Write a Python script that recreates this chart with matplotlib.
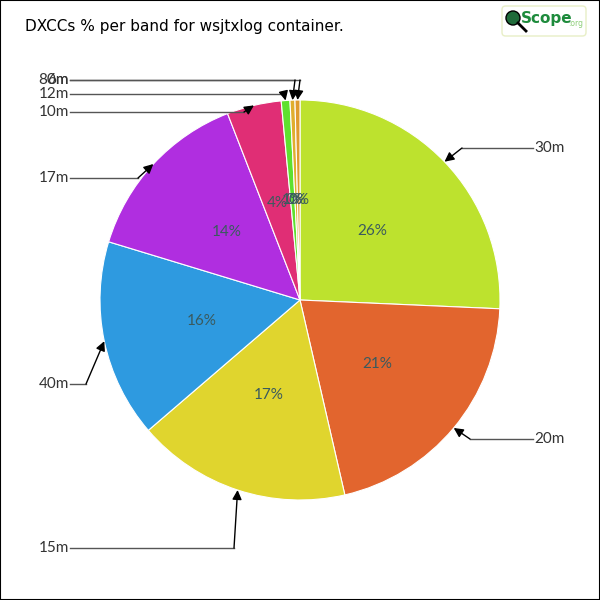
import numpy as np
import matplotlib
matplotlib.use('Agg')
import matplotlib.pyplot as plt
from matplotlib.patches import Rectangle, FancyBboxPatch, Circle

# Band shares (percent), clockwise from the top
bands  = ['30m', '20m', '15m', '40m', '17m', '10m', '12m', '80m', '6m']
shares = [25.7, 20.7, 17.3, 16.0, 14.4, 4.4, 0.7, 0.4, 0.4]
colors = ['#bde22e', '#e2652e', '#e0d52e', '#2e9ae0', '#b02ee0',
          '#e02e75', '#5ee02e', '#e0ae2e', '#e09a2e']

# label layout in pixels from the top-left corner: (text x, text y, elbow x)
labelPos = {'30m': (533, 148, 462), '20m': (533, 439, 470), '15m': (70, 548, 234),
            '40m': (70, 384, 86), '17m': (70, 178, 138), '10m': (70, 112, 244),
            '12m': (70, 94, 284), '80m': (70, 80, 295), '6m': (70, 80, 300)}

fig = plt.figure(figsize=(6, 6), dpi=100)
ax = fig.add_axes([0, 0, 1, 1])

wedges, texts, autotexts = ax.pie(shares, colors=colors, startangle=90, counterclock=False,
                                  center=(300, 300), radius=200, autopct='%.0f%%',
                                  pctdistance=0.5,
                                  wedgeprops=dict(edgecolor='white', linewidth=0.8),
                                  textprops=dict(color='#3a5a5e', fontsize=11, family='Lato'))
ax.set_xlim(0, 600)
ax.set_ylim(0, 600)
ax.set_aspect('equal')
ax.axis('off')

for w, band in zip(wedges, bands):
    mid = np.deg2rad((w.theta1 + w.theta2) / 2)
    tip = (300 + 200 * np.cos(mid), 300 + 200 * np.sin(mid))
    tx, ty, ex = labelPos[band]
    ty = 600 - ty
    ax.plot([tx, ex], [ty, ty], color='#555555', lw=1)
    ax.annotate('', xy=tip, xytext=(ex, ty),
                arrowprops=dict(arrowstyle='-|>', color='black', lw=1, mutation_scale=14,
                                shrinkA=0, shrinkB=0))
    ha = 'left' if tx > 300 else 'right'
    ax.text(tx + (1 if ha == 'left' else -1), ty, band, ha=ha, va='center',
            fontsize=11, color='#333333', family='Lato')

# title
fig.text(25 / 600, 1 - 27 / 600, 'DXCCs % per band for wsjtxlog container.',
         ha='left', va='center', fontsize=11, color='black', family='DejaVu Sans')

# small logo in the top right corner
logo = FancyBboxPatch((502 / 600, 1 - 36 / 600), 84 / 600, 30 / 600,
                      boxstyle='round,pad=0,rounding_size=0.006', transform=fig.transFigure,
                      facecolor='white', edgecolor='#e8efc6', lw=1)
fig.patches.append(logo)
fig.patches.append(Circle((513 / 600, 1 - 18 / 600), 7 / 600, transform=fig.transFigure,
                          facecolor='#1f6b3a', edgecolor='black', lw=1))
fig.lines.append(plt.Line2D([518 / 600, 526 / 600], [1 - 23 / 600, 1 - 31 / 600],
                            transform=fig.transFigure, color='black', lw=2))
fig.text(521 / 600, 1 - 19 / 600, 'Scope', ha='left', va='center', fontsize=11,
         color='#1e8b3c', family='DejaVu Sans', fontweight='bold')
fig.text(568 / 600, 1 - 24 / 600, '.org', ha='left', va='center', fontsize=5.5,
         color='#8fcf7a', family='DejaVu Sans')

# frame around the image
fig.patches.append(Rectangle((0, 0), 1, 1, transform=fig.transFigure, fill=False,
                             edgecolor='black', lw=1.5))

fig.savefig('out.png', dpi=100)
